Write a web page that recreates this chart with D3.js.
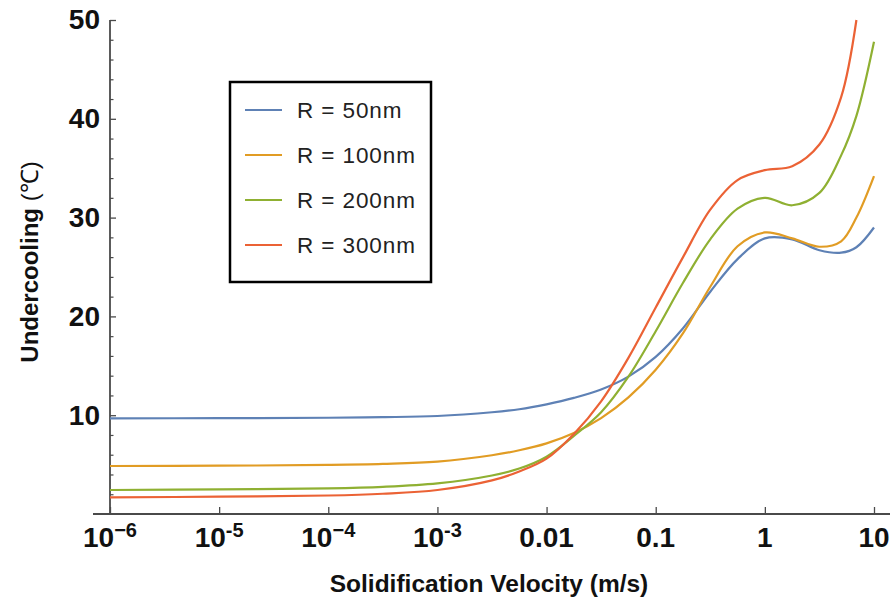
<!DOCTYPE html>
<html>
<head>
<meta charset="utf-8">
<script src="https://cdn.jsdelivr.net/npm/d3@7"></script>
<style>
  html, body { margin: 0; padding: 0; background: #fff; }
  svg { display: block; font-family: "Liberation Sans", Arial, sans-serif; }
</style>
</head>
<body>
<svg id="chart" width="893" height="604"></svg>
<script>
// ---- data ----
const velocities = [1e-6, 1e-5, 1e-4, 3.16e-4, 1e-3, 3.16e-3, 5.62e-3, 0.01, 0.0178, 0.0316, 0.0562, 0.1, 0.178, 0.316, 0.562, 1, 1.78, 3.16, 5.0, 6.9, 10];
const r50  = [9.68, 9.70, 9.74, 9.80, 9.92, 10.3, 10.6, 11.1, 11.75, 12.6, 13.9, 15.9, 18.8, 22.5, 25.8, 27.9, 27.8, 26.7, 26.45, 27.0, 29.0];
const r100 = [4.86, 4.89, 4.97, 5.07, 5.3, 5.95, 6.45, 7.15, 8.2, 9.7, 11.8, 14.6, 18.3, 23.0, 27.1, 28.5, 27.9, 27.05, 27.6, 30.0, 34.2];
const r200 = [2.43, 2.5, 2.6, 2.75, 3.1, 3.9, 4.6, 5.8, 7.9, 10.3, 13.9, 18.5, 23.4, 27.8, 30.9, 32.0, 31.25, 32.5, 36.3, 40.3, 47.8];
const r300 = [1.69, 1.75, 1.87, 2.05, 2.43, 3.4, 4.3, 5.6, 8.1, 11.4, 15.8, 20.9, 26.0, 30.8, 33.8, 34.8, 35.2, 37.4, 42.2, 50.0, null];
const seriesNames = ["R = 50nm", "R = 100nm", "R = 200nm", "R = 300nm"];
const seriesColors = ["#5E81B5", "#E19C24", "#8FB032", "#EB6235"];
const xTickValues = [1e-6, 1e-5, 1e-4, 1e-3, 0.01, 0.1, 1, 10];
const xTickBase = ["10", "10", "10", "10", "0.01", "0.1", "1", "10"];
const xTickSup = ["\u22126", "-5", "\u22124", "-3", "", "", "", ""];
const yTickValues = [10, 20, 30, 40, 50];
const yMinorTicks = [2, 4, 6, 8, 12, 14, 16, 18, 22, 24, 26, 28, 32, 34, 36, 38, 42, 44, 46, 48];
const xTitle = "Solidification Velocity (m/s)";
const yTitleMain = "Undercooling ";
const yTitleUnit = "(\u2103)";

const allSeries = [r50, r100, r200, r300];

// ---- drawing ----
const svg = d3.select("#chart");
const x = d3.scaleLog().domain([1e-6, 10]).range([110, 874]);
const y = d3.scaleLinear().domain([0, 50]).range([514, 20]);
const axisColor = "#4a4a4a";

// y axis
const gy = svg.append("g").attr("transform", `translate(${x.range()[0]},0)`);
gy.call(d3.axisLeft(y).tickValues(yTickValues).tickSizeInner(-6).tickSizeOuter(0).tickPadding(10).tickFormat(d3.format("d")));
gy.select(".domain").remove();
gy.selectAll(".tick line").attr("stroke", axisColor).attr("stroke-width", 1.3);
gy.selectAll(".tick text").attr("font-size", 28).attr("font-weight", "bold").attr("fill", "#111")
  .attr("font-family", "'Liberation Sans', Arial, sans-serif");
const gyMinor = svg.append("g").attr("transform", `translate(${x.range()[0]},0)`);
gyMinor.call(d3.axisLeft(y).tickValues(yMinorTicks).tickSizeInner(-3.5).tickSizeOuter(0).tickFormat(""));
gyMinor.select(".domain").remove();
gyMinor.selectAll(".tick line").attr("stroke", axisColor).attr("stroke-width", 1.2);
svg.append("line")
  .attr("x1", x.range()[0]).attr("x2", x.range()[0])
  .attr("y1", y(50)).attr("y2", y(0))
  .attr("stroke", axisColor).attr("stroke-width", 1.8);

// x axis
const gx = svg.append("g").attr("transform", `translate(0,${y(0)})`);
gx.call(d3.axisBottom(x).tickValues(xTickValues).tickSizeInner(-7).tickSizeOuter(0).tickFormat(""));
gx.select(".domain").remove();
gx.selectAll(".tick line").attr("stroke", axisColor).attr("stroke-width", 1.3);
svg.append("line")
  .attr("x1", x.range()[0] - 17).attr("x2", x.range()[1] + 16)
  .attr("y1", y(0)).attr("y2", y(0))
  .attr("stroke", axisColor).attr("stroke-width", 1.8);

const xLabels = svg.append("g");
xTickValues.forEach((v, i) => {
  const t = xLabels.append("text")
    .attr("x", x(v)).attr("y", y(0) + 33)
    .attr("text-anchor", "middle")
    .attr("font-size", 28).attr("font-weight", "bold").attr("fill", "#111");
  t.append("tspan").text(xTickBase[i]);
  if (xTickSup[i]) {
    t.append("tspan").attr("font-size", 20).attr("dy", -10).text(xTickSup[i]);
  }
});

// lines
const line = d3.line()
  .defined(d => d[1] != null)
  .x(d => x(d[0]))
  .y(d => y(d[1]))
  .curve(d3.curveCatmullRom.alpha(0.5));

allSeries.forEach((vals, i) => {
  const pts = velocities.map((v, j) => [v, vals[j]]);
  svg.append("path")
    .datum(pts)
    .attr("fill", "none")
    .attr("stroke", seriesColors[i])
    .attr("stroke-width", 2.2)
    .attr("stroke-linejoin", "round")
    .attr("d", line);
});

// legend
const legend = svg.append("g").attr("transform", "translate(230,82)");
legend.append("rect")
  .attr("x", 0).attr("y", 0).attr("width", 201).attr("height", 200)
  .attr("fill", "#fff").attr("stroke", "#000").attr("stroke-width", 2.5);
seriesNames.forEach((name, i) => {
  const cy = 28 + i * 45;
  legend.append("line")
    .attr("x1", 15).attr("x2", 52).attr("y1", cy).attr("y2", cy)
    .attr("stroke", seriesColors[i]).attr("stroke-width", 2.2);
  legend.append("text")
    .attr("x", 67).attr("y", cy + 8)
    .attr("font-size", 22.5).attr("letter-spacing", 0.9)
    .attr("fill", "#222")
    .text(name);
});

// axis titles
svg.append("text")
  .attr("x", 489).attr("y", 592)
  .attr("text-anchor", "middle")
  .attr("font-size", 24.5).attr("font-weight", "bold").attr("fill", "#111")
  .text(xTitle);

const yt = svg.append("text")
  .attr("transform", "translate(38,262) rotate(-90)")
  .attr("text-anchor", "middle")
  .attr("font-size", 24).attr("fill", "#111");
yt.append("tspan").attr("font-weight", "bold").text(yTitleMain);
yt.append("tspan").attr("font-weight", "normal").text(yTitleUnit);
</script>
</body>
</html>
